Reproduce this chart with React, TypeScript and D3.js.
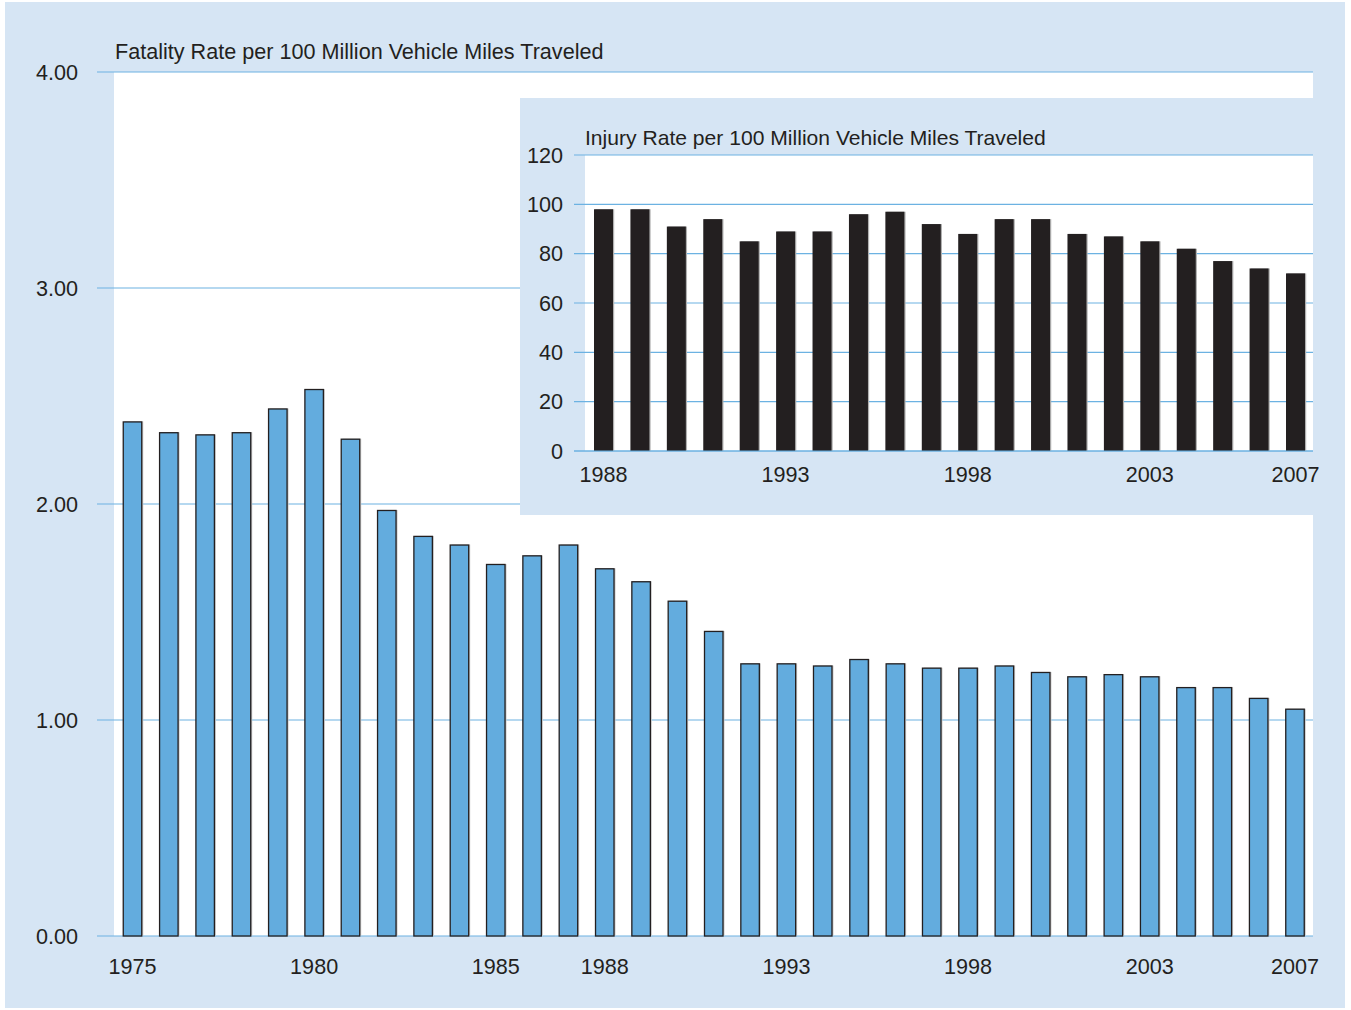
import React from "react";
import * as d3 from "d3";

const fatalityYears = d3.range(1975, 2008);
const fatalityRates = [
  2.38, 2.33, 2.32, 2.33, 2.44, 2.53, 2.3, 1.97, 1.85, 1.81, 1.72, 1.76, 1.81,
  1.7, 1.64, 1.55, 1.41, 1.26, 1.26, 1.25, 1.28, 1.26, 1.24, 1.24, 1.25, 1.22,
  1.2, 1.21, 1.2, 1.15, 1.15, 1.1, 1.05,
];
const fatalityTicks = [0, 1, 2, 3, 4];
const fatalityYearLabels = [1975, 1980, 1985, 1988, 1993, 1998, 2003, 2007];

const injuryYears = d3.range(1988, 2008);
const injuryRates = [
  98, 98, 91, 94, 85, 89, 89, 96, 97, 92, 88, 94, 94, 88, 87, 85, 82, 77, 74, 72,
];
const injuryTicks = [0, 20, 40, 60, 80, 100, 120];
const injuryYearLabels = [1988, 1993, 1998, 2003, 2007];

const BG = "#d6e5f4";
const GRID = "#6cb2e2";
const TEXT = "#231f20";
const BAR = "#63acde";
const FONT = "'Liberation Sans', Arial, Helvetica, sans-serif";
const FS = 21.6;

export default function App() {
  const W = 1351;
  const H = 1010;

  // main chart scales
  const x = d3.scaleLinear().domain([1975, 2007]).range([132.5, 1295]);
  const y = d3.scaleLinear().domain([0, 4]).range([936, 72]);
  const bw = 18.5;

  // inset scales
  const xi = d3.scaleLinear().domain([1988, 2007]).range([603.5, 1295.5]);
  const yi = d3.scaleLinear().domain([0, 120]).range([451, 155]);
  const ibw = 19;

  return (
    <svg
      width={W}
      height={H}
      style={{ position: "absolute", left: 0, top: 0 }}
      fontFamily={FONT}
    >
      <rect x={0} y={0} width={W} height={H} fill="#ffffff" />
      <rect x={5} y={2} width={1340} height={1006} fill={BG} />
      <rect x={114} y={y(4)} width={1313 - 114} height={y(0) - y(4)} fill="#ffffff" />

      {fatalityTicks.map((t) => (
        <g key={t}>
          <line x1={97} x2={1313} y1={y(t)} y2={y(t)} stroke={GRID} strokeWidth={1.2} />
          <text x={78} y={y(t)} dy="0.36em" textAnchor="end" fontSize={FS} fill={TEXT}>
            {t.toFixed(2)}
          </text>
        </g>
      ))}

      {fatalityYears.map((yr, i) => (
        <g key={yr}>
          <rect
            x={x(yr) - bw / 2 + 1.5}
            y={y(fatalityRates[i]) - 0.5}
            width={bw}
            height={y(0) - y(fatalityRates[i])}
            fill="#c8c8c8"
          />
          <rect
            x={x(yr) - bw / 2}
            y={y(fatalityRates[i])}
            width={bw}
            height={y(0) - y(fatalityRates[i])}
            fill={BAR}
            stroke={TEXT}
            strokeWidth={1.3}
          />
        </g>
      ))}

      {fatalityYearLabels.map((yr) => (
        <text key={yr} x={x(yr)} y={974} textAnchor="middle" fontSize={FS} fill={TEXT}>
          {yr}
        </text>
      ))}

      <text x={115} y={59} fontSize={FS} fill={TEXT}>
        Fatality Rate per 100 Million Vehicle Miles Traveled
      </text>

      {/* inset */}
      <rect x={520} y={98} width={1313 - 520} height={515 - 98} fill={BG} />
      <rect x={585} y={yi(120)} width={1313 - 585} height={yi(0) - yi(120)} fill="#ffffff" />
      {injuryTicks.map((t) => (
        <g key={t}>
          <line x1={574} x2={1313} y1={yi(t)} y2={yi(t)} stroke={GRID} strokeWidth={1.2} />
          <text x={563} y={yi(t)} dy="0.36em" textAnchor="end" fontSize={FS} fill={TEXT}>
            {t}
          </text>
        </g>
      ))}
      {injuryYears.map((yr, i) => (
        <g key={yr}>
          <rect
            x={xi(yr) - ibw / 2 + 1.2}
            y={yi(injuryRates[i])}
            width={ibw}
            height={yi(0) - yi(injuryRates[i])}
            fill="#b0b0b0"
          />
          <rect
            x={xi(yr) - ibw / 2}
            y={yi(injuryRates[i])}
            width={ibw}
            height={yi(0) - yi(injuryRates[i])}
            fill={TEXT}
          />
        </g>
      ))}
      <line x1={574} x2={1313} y1={yi(0)} y2={yi(0)} stroke={GRID} strokeWidth={1.2} />
      {injuryYearLabels.map((yr) => (
        <text key={yr} x={xi(yr)} y={482} textAnchor="middle" fontSize={FS} fill={TEXT}>
          {yr}
        </text>
      ))}
      <text x={585} y={145} fontSize={21.1} fill={TEXT}>
        Injury Rate per 100 Million Vehicle Miles Traveled
      </text>
    </svg>
  );
}
